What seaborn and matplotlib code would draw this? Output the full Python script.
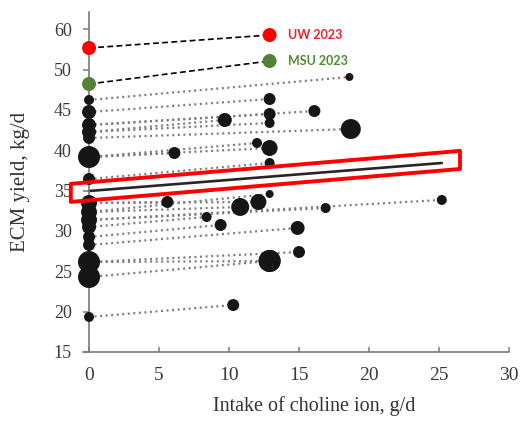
import numpy as np
import pandas as pd
import matplotlib
matplotlib.use("Agg")
import matplotlib.pyplot as plt
import seaborn as sns
from matplotlib.patches import Polygon

# ---------------- data ----------------
# control (no choline) points, all at intake 0
ctrl_y = [46.23, 44.74, 43.13, 42.26, 41.52, 39.16, 36.44, 33.46, 32.34,
          31.36, 30.49, 29.25, 28.26, 26.15, 24.29, 19.34]
ctrl_r = [5, 7, 7, 7, 6, 11, 6, 8, 8, 8, 7, 6, 6, 11, 11, 5]

# treatment points, each linked to its control yield
pair_ctrl_y = [46.23, 44.74, 43.13, 43.13, 42.26, 42.26, 41.52, 39.16, 39.16,
               39.16, 36.44, 33.46, 33.46, 32.34, 32.34, 31.36, 31.36, 30.49,
               29.25, 28.26, 26.15, 26.15, 24.29, 19.34]
trt_x = [18.6, 12.9, 16.1, 12.9, 9.7, 12.9, 18.7, 6.1, 12.0,
         12.9, 12.9, 5.6, 12.1, 10.8, 12.9, 16.9, 25.2, 8.4,
         9.4, 14.9, 15.0, 12.9, 12.9, 10.3]
trt_y = [49.08, 46.35, 44.86, 44.49, 43.75, 43.38, 42.63, 39.66, 40.90,
         40.28, 38.42, 33.59, 33.59, 32.97, 34.58, 32.84, 33.84, 31.73,
         30.74, 30.37, 27.39, 26.28, 26.28, 20.82]
trt_r = [4, 6, 6, 6, 7, 5, 10, 6, 5,
         8, 5, 6, 8, 9, 4, 5, 5, 5,
         6, 7, 6, 11, 11, 6]

# new trials
trial_names = ["UW 2023", "MSU 2023"]
trial_ctrl_y = [52.67, 48.21]
trial_trt_x = [12.9, 12.9]
trial_trt_y = [54.28, 51.06]
trial_colors = ["#ff0000", "#538135"]
trial_text_colors = ["#e8232b", "#4e8a2e"]

# regression line
reg_x = [0.0, 25.2]
reg_y = [34.95, 38.42]

x_ticks = [0, 5, 10, 15, 20, 25, 30]
y_ticks = [15, 20, 25, 30, 35, 40, 45, 50, 55]
y_tick_labels = ["15", "20", "25", "30", "35", "40", "45", "50", "60"]

# ---------------- figure ----------------
sns.set_style("white")
plt.rcParams["font.family"] = ["Liberation Serif", "DejaVu Serif"]

W, H = 521, 421
fig = plt.figure(figsize=(W / 100, H / 100), dpi=100)
ax = fig.add_axes([83 / W, 69 / H, (509 - 83) / W, (352 - 12) / H])

def area(r):
    return (2 * r * 0.72) ** 2

# connecting dotted lines
for cy, tx, ty in zip(pair_ctrl_y, trt_x, trt_y):
    ax.plot([0, tx], [cy, ty], color="#7c7c7c", lw=1.6,
            linestyle=(0, (0.9, 1.6)), zorder=1,
            dash_capstyle="butt")

# dashed lines for trials
for cy, tx, ty in zip(trial_ctrl_y, trial_trt_x, trial_trt_y):
    ax.plot([0, tx], [cy, ty], color="black", lw=1.2,
            linestyle=(0, (3.5, 2)), zorder=1)

# regression line
ax.plot(reg_x, reg_y, color="#262626", lw=1.9, zorder=2)

# points
pts = pd.DataFrame({
    "x": [0.0] * len(ctrl_y) + trt_x,
    "y": ctrl_y + trt_y,
    "r": ctrl_r + trt_r,
})
size_map = {r: area(r) for r in sorted(set(pts["r"]))}
sns.scatterplot(data=pts, x="x", y="y", size="r", sizes=size_map,
                color="#161616", edgecolor="none", legend=False,
                ax=ax, zorder=3, clip_on=False)

trial_df = pd.DataFrame({
    "x": [0.0] * len(trial_names) + trial_trt_x,
    "y": trial_ctrl_y + trial_trt_y,
    "trial": trial_names + trial_names,
})
sns.scatterplot(data=trial_df, x="x", y="y", hue="trial",
                palette=dict(zip(trial_names, trial_colors)),
                s=area(7), edgecolor="none", legend=False,
                ax=ax, zorder=3, clip_on=False)

for name, tx, ty, tc in zip(trial_names, trial_trt_x, trial_trt_y, trial_text_colors):
    ax.annotate(name, (tx, ty), xytext=(13.5, 0), textcoords="offset points",
                ha="left", va="center", color=tc, fontsize=9,
                fontweight="bold", family=["Lato", "DejaVu Sans"])

# red highlight box around the regression line
slope = (reg_y[1] - reg_y[0]) / (reg_x[1] - reg_x[0])
bx0, bx1 = reg_x[0] - 1.3, reg_x[1] + 1.3
by0 = reg_y[0] + slope * (bx0 - reg_x[0]) - 0.05
by1 = reg_y[0] + slope * (bx1 - reg_x[0]) + 0.2
hh = 1.12
box = Polygon([(bx0, by0 - hh), (bx1, by1 - hh), (bx1, by1 + hh), (bx0, by0 + hh)],
              closed=True, fill=False, edgecolor="#ff0000", lw=2.8,
              joinstyle="round", zorder=5, clip_on=False)
ax.add_patch(box)

# axes styling
ax.set_xlim(-0.43, 30)
ax.set_ylim(15, 15 + 340 / 8.07)
ax.set_xticks(x_ticks)
ax.set_yticks(y_ticks)
ax.set_yticklabels(y_tick_labels)
ax.spines["left"].set_position(("data", 0))
for s in ["top", "right"]:
    ax.spines[s].set_visible(False)
for s in ["left", "bottom"]:
    ax.spines[s].set_color("#7a7a7a")
    ax.spines[s].set_linewidth(1.2)

ax.tick_params(axis="y", direction="out", length=4.3, width=1.1,
               color="#7a7a7a", labelsize=13, labelcolor="#3a3a3a", pad=8, left=True)
ax.tick_params(axis="x", direction="in", length=3.6, width=1.1,
               color="#7a7a7a", labelsize=14, labelcolor="#3a3a3a", pad=10.5, bottom=True)

ax.set_xlabel("Intake of choline ion, g/d", fontsize=14.5, color="#333333")
ax.set_ylabel("ECM yield, kg/d", fontsize=15, color="#333333")
ax.xaxis.set_label_coords((314 - 83) / 426, -0.13)
ax.yaxis.set_label_coords(-0.125, 0.5)
ax.grid(False)

fig.savefig("out.png", dpi=100)
